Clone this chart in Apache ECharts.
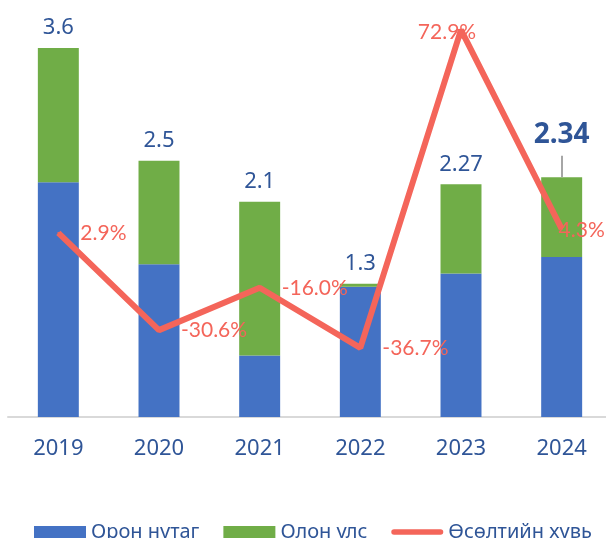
<!DOCTYPE html>
<html>
<head>
<meta charset="utf-8">
<script src="https://cdn.jsdelivr.net/npm/echarts@6/dist/echarts.min.js"></script>
<style>
  html, body { margin: 0; padding: 0; background: #fff; }
  #chart { width: 606px; height: 538px; }
</style>
</head>
<body>
<div id="chart"></div>
<script>
const years = ['2019', '2020', '2021', '2022', '2023', '2024']
const local = [2.29, 1.49, 0.6, 1.27, 1.4, 1.56]
const intl = [1.31, 1.01, 1.5, 0.03, 0.87, 0.78]
const totals = [3.6, 2.5, 2.1, 1.3, 2.27, 2.34]
const growth = [2.9, -30.6, -16.0, -36.7, 72.9, 4.3]
const leaderTop = 2.55

const blueText = '#2F5597'
const red = '#F4655A'

const chart = echarts.init(document.getElementById('chart'))

const growthData = growth.map((v, i) => {
  const item = { value: v }
  if (i === 4) item.label = { position: 'inside', offset: [-14, 2] }
  if (i === 5) item.label = { position: 'inside', offset: [20, 1] }
  return item
})

const intlData = intl.map((v, i) => {
  const item = { value: v }
  if (i === 5) {
    item.label = { distance: 28, fontSize: 28, fontWeight: 'bold' }
  }
  return item
})

chart.setOption({
  animation: false,
  grid: { left: 8, right: -6, top: 7, bottom: 121, containLabel: false, outerBoundsMode: 'none' },
  legend: {
    left: 34,
    top: 522,
    padding: 0,
    itemWidth: 52,
    itemHeight: 12,
    itemGap: 24,
    textStyle: { color: blueText, fontSize: 20, fontFamily: 'Noto Sans' },
    data: [
      { name: 'Орон нутаг', icon: 'rect' },
      { name: 'Олон улс', icon: 'rect' },
      { name: 'Өсөлтийн хувь', icon: 'path://M3,0 L53,0 A3,3 0 0 1 53,6 L3,6 A3,3 0 0 1 3,0 Z' }
    ]
  },
  xAxis: {
    type: 'category',
    data: years,
    axisTick: { show: false },
    axisLine: { lineStyle: { color: '#D9D9D9', width: 2 } },
    axisLabel: { color: blueText, fontSize: 22, fontFamily: 'Noto Sans', margin: 21 }
  },
  yAxis: [
    { type: 'value', min: 0, max: 4, show: false, splitLine: { show: false } },
    { type: 'value', min: -60.55, max: 80.8, show: false, splitLine: { show: false } }
  ],
  series: [
    {
      name: 'Орон нутаг',
      type: 'bar',
      stack: 'total',
      data: local,
      barWidth: '40.7%',
      itemStyle: { color: '#4472C4' }
    },
    {
      name: 'Олон улс',
      type: 'bar',
      stack: 'total',
      data: intlData,
      itemStyle: { color: '#70AD47' },
      label: {
        show: true,
        position: 'top',
        distance: 9,
        color: blueText,
        fontSize: 22,
        fontFamily: 'Noto Sans',
        formatter: (p) => String(totals[p.dataIndex])
      },
      markLine: {
        silent: true,
        symbol: 'none',
        label: { show: false },
        lineStyle: { color: '#A6A6A6', width: 2, type: 'solid' },
        data: [[{ coord: ['2024', totals[5]] }, { coord: ['2024', leaderTop] }]]
      }
    },
    {
      name: 'Өсөлтийн хувь',
      type: 'line',
      yAxisIndex: 1,
      data: growthData,
      symbol: 'circle',
      symbolSize: 2,
      z: 5,
      lineStyle: { color: red, width: 6 },
      itemStyle: { color: red },
      label: {
        show: true,
        position: 'right',
        distance: 21,
        color: red,
        fontSize: 21,
        fontFamily: 'Lato',
        formatter: (p) => p.value.toFixed(1) + '%'
      }
    }
  ]
})
</script>
</body>
</html>
